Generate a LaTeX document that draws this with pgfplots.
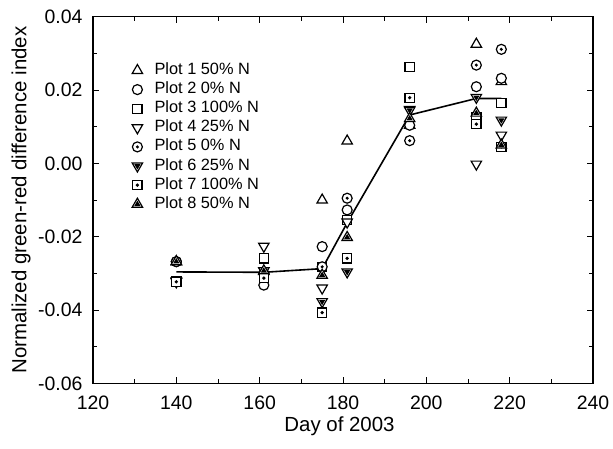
\documentclass[border=0pt]{standalone}
\usepackage{pgfplots}
\pgfplotsset{compat=1.18}
\usepackage{fontspec}
\setmainfont{Liberation Sans}

\pgfdeclareplotmark{odot}{%
  \pgfscope
  \pgfpathcircle{\pgfpointorigin}{\pgfplotmarksize}\pgfusepathqfillstroke
  \pgfsetfillcolor{black}%
  \pgfpathcircle{\pgfpointorigin}{0.34\pgfplotmarksize}\pgfusepathqfill
  \endpgfscope}
\pgfdeclareplotmark{sdot}{%
  \pgfscope
  \pgfpathrectanglecorners{\pgfpoint{-\pgfplotmarksize}{-\pgfplotmarksize}}{\pgfpoint{\pgfplotmarksize}{\pgfplotmarksize}}\pgfusepathqfillstroke
  \pgfsetfillcolor{black}%
  \pgfpathcircle{\pgfpointorigin}{0.4\pgfplotmarksize}\pgfusepathqfill
  \endpgfscope}
\pgfdeclareplotmark{tdot}{%
  \pgfscope
  \pgfpathmoveto{\pgfpointpolar{90}{\pgfplotmarksize}}%
  \pgfpathlineto{\pgfpointpolar{-30}{\pgfplotmarksize}}%
  \pgfpathlineto{\pgfpointpolar{210}{\pgfplotmarksize}}%
  \pgfpathclose\pgfusepathqfillstroke
  \pgfsetfillcolor{black}%
  \pgfpathmoveto{\pgfpointpolar{90}{0.6\pgfplotmarksize}}%
  \pgfpathlineto{\pgfpointpolar{-30}{0.6\pgfplotmarksize}}%
  \pgfpathlineto{\pgfpointpolar{210}{0.6\pgfplotmarksize}}%
  \pgfpathclose\pgfusepathqfill
  \endpgfscope}

\begin{document}
\begin{tikzpicture}
\path (-93bp,-64.7bp) rectangle (520bp,383.4bp);
\begin{axis}[
  scale only axis, width=500bp, height=366.7bp,
  xmin=120, xmax=240, ymin=-0.06, ymax=0.04,
  xtick={120,140,...,240},
  ytick={-0.06,-0.04,-0.02,0,0.02,0.04},
  yticklabels={-0.06,-0.04,-0.02,0.00,0.02,0.04},
  minor x tick num=1, minor y tick num=1,
  tick align=inside, major tick length=6bp, minor tick length=4bp,
  every tick/.style={black, line width=1bp},
  axis line style={line width=1.3bp},
  /pgf/number format/assume math mode=true,
  scaled y ticks=false,
  tick label style={font=\fontsize{19.5}{22}\selectfont},
  yticklabel style={xshift=-7bp},
  xticklabel style={yshift=-9bp},
  label style={font=\fontsize{20.5}{24}\selectfont},
  xlabel={Day of 2003},
  xlabel style={at={(rel axis cs:0.493,-0.1165)}, anchor=center},
  ylabel={Normalized green-red difference index},
  ylabel style={at={(rel axis cs:-0.144,0.5)}, anchor=center},
  legend cell align=left,
  legend style={draw=none, fill=none, at={(0.078,0.877)}, anchor=north west, inner sep=0pt,
    font=\fontsize{16.4}{18}\selectfont, row sep=2.1bp,
    nodes={inner sep=1bp, text height=11.5bp, text depth=3.5bp},
    /tikz/every odd column/.append style={column sep=11bp}},
]
\addplot[only marks, mark=triangle*, mark size=6bp, line width=1.2bp, mark options={fill=white, draw=black}] coordinates {
 (140,-0.0268) (161,-0.0295) (175,-0.0100) (181,0.0061) (196,0.0104) (212,0.0325) (218,0.0223)};
\addlegendentry{Plot 1 50\% N}
\addplot[only marks, mark=*, mark size=5bp, line width=1.2bp, mark options={fill=white, draw=black}] coordinates {
 (140,-0.0268) (161,-0.0332) (175,-0.0227) (181,-0.0127) (196,0.0104) (212,0.0209) (218,0.0232)};
\addlegendentry{Plot 2 0\% N}
\addplot[only marks, mark=square*, mark size=4.6bp, line width=1.2bp, mark options={fill=white, draw=black}] coordinates {
 (140,-0.0321) (161,-0.0259) (175,-0.0282) (181,-0.0155) (196,0.0263) (212,0.0125) (218,0.0165)};
\addlegendentry{Plot 3 100\% N}
\addplot[only marks, mark=triangle*, mark size=6bp, line width=1.2bp, mark options={fill=white, draw=black, rotate=180}] coordinates {
 (140,-0.0321) (161,-0.0226) (175,-0.0340) (181,-0.0160) (196,0.0147) (212,-0.0002) (218,0.0077)};
\addlegendentry{Plot 4 25\% N}
\addplot[only marks, mark=odot, mark size=5bp, line width=1.2bp, mark options={fill=white, draw=black}] coordinates {
 (140,-0.0268) (161,-0.0300) (175,-0.0282) (181,-0.0095) (196,0.0062) (212,0.0268) (218,0.0311)};
\addlegendentry{Plot 5 0\% N}
\addplot[only marks, mark=tdot, mark size=6bp, line width=1.2bp, mark options={fill=white, draw=black, rotate=180}] coordinates {
 (140,-0.0323) (161,-0.0293) (175,-0.0377) (181,-0.0296) (196,0.0145) (212,0.0180) (218,0.0118)};
\addlegendentry{Plot 6 25\% N}
\addplot[only marks, mark=sdot, mark size=4.6bp, line width=1.2bp, mark options={fill=white, draw=black}] coordinates {
 (140,-0.0323) (161,-0.0313) (175,-0.0407) (181,-0.0259) (196,0.0179) (212,0.0107) (218,0.0045)};
\addlegendentry{Plot 7 100\% N}
\addplot[only marks, mark=tdot, mark size=6bp, line width=1.2bp, mark options={fill=white, draw=black}] coordinates {
 (140,-0.0268) (161,-0.0293) (175,-0.0305) (181,-0.0202) (196,0.0122) (212,0.0137) (218,0.0050)};
\addlegendentry{Plot 8 50\% N}
\addplot[black, line width=1.6bp, no marks, forget plot] coordinates {
 (140,-0.0296) (161,-0.0297) (175,-0.0287) (181,-0.0162) (196,0.0132) (212,0.0177) (218,0.0177)};
\end{axis}
\end{tikzpicture}
\end{document}
